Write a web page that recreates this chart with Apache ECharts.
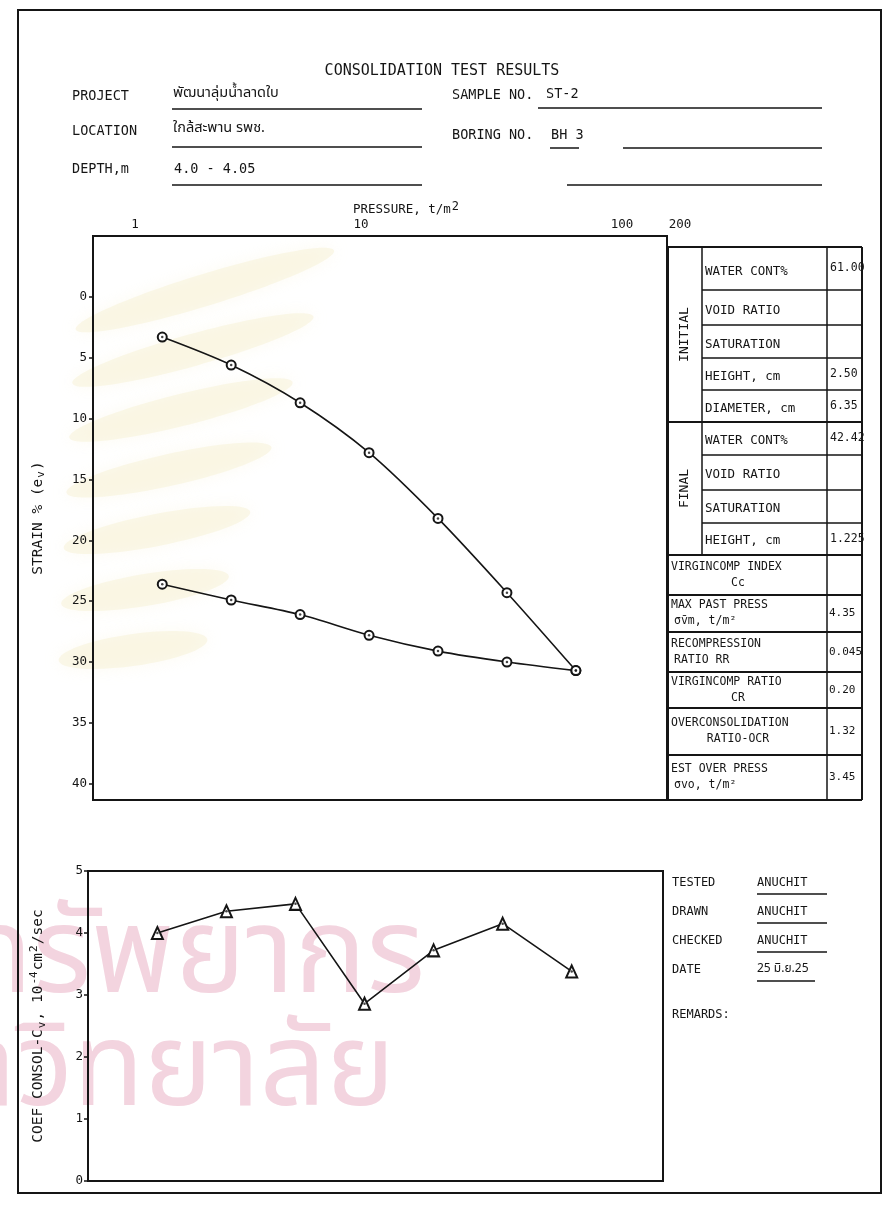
<!DOCTYPE html>
<html>
<head>
<meta charset="utf-8">
<script src="https://cdn.jsdelivr.net/npm/echarts@6/dist/echarts.min.js"></script>
<style>
  html, body { margin: 0; padding: 0; background: #ffffff; }
  #chart { width: 889px; height: 1210px; }
</style>
</head>
<body>
<div id="chart"></div>
<script>
// ---- consolidation test data ----
const pressure = [1.25, 2.5, 5, 10, 20, 40, 80];                 // t/m2, load steps
const strainLoading = [3.3, 5.6, 8.7, 12.8, 18.2, 24.3, 30.7];    // strain %
const unloadPressure = [80, 40, 20, 10, 5, 2.5, 1.25];
const strainUnloading = [30.7, 30.0, 29.1, 27.8, 26.1, 24.9, 23.6];
const cvPressure = [1.25, 2.5, 5, 10, 20, 40, 80];
const cvValues = [4.0, 4.35, 4.47, 2.86, 3.72, 4.15, 3.38];      // 10^-4 cm2/sec

const pressureTicks = [1, 10, 100, 200];
const strainTicks = [0, 5, 10, 15, 20, 25, 30, 35, 40];
const cvTicks = [0, 1, 2, 3, 4, 5];

// ---- sheet texts ----
const projectName = 'พัฒนาลุ่มน้ำลาดใบ';
const locationName = 'ใกล้สะพาน รพช.';
const depthText = '4.0 - 4.05';
const sampleNo = 'ST-2';
const boringNo = 'BH 3';
const initialRows = [['WATER CONT%', '61.00'], ['VOID RATIO', ''], ['SATURATION', ''], ['HEIGHT, cm', '2.50'], ['DIAMETER, cm', '6.35']];
const finalRows = [['WATER CONT%', '42.42'], ['VOID RATIO', ''], ['SATURATION', ''], ['HEIGHT, cm', '1.225']];
const summaryRows = [
  ['VIRGINCOMP INDEX', 'Cc', ''],
  ['MAX PAST PRESS', 'σ̄vm, t/m²', '4.35'],
  ['RECOMPRESSION', 'RATIO RR', '0.045'],
  ['VIRGINCOMP RATIO', 'CR', '0.20'],
  ['OVERCONSOLIDATION', 'RATIO-OCR', '1.32'],
  ['EST OVER PRESS', 'σvo, t/m²', '3.45']
];
const signRows = [['TESTED', 'ANUCHIT'], ['DRAWN', 'ANUCHIT'], ['CHECKED', 'ANUCHIT'], ['DATE', '25 มิ.ย.25'], ['REMARDS:', '']];

// ---- drawing helpers ----
const INK = '#151515';
const MONO = '"DejaVu Sans Mono", "Liberation Mono", monospace';
const THAI = '"Noto Sans Thai", "Noto Sans Thai Looped", "Noto Sans", "DejaVu Sans", sans-serif';
const G = [];
function line(x1, y1, x2, y2, w) {
  G.push({ type: 'line', silent: true, z: 5,
    shape: { x1, y1, x2, y2 }, style: { stroke: INK, lineWidth: w || 1.5 } });
}
function text(x, y, str, o) {
  o = o || {};
  G.push({ type: 'text', silent: true, z: 6, x, y, rotation: o.rot || 0,
    style: { text: str, x: 0, y: 0, fill: o.color || INK,
      font: (o.weight || 'normal') + ' ' + (o.size || 12) + 'px ' + (o.family || MONO),
      textAlign: o.align || 'left', textVerticalAlign: 'middle' } });
}

// page frame
G.push({ type: 'rect', silent: true, z: 5, shape: { x: 18, y: 10, width: 863, height: 1183 },
  style: { fill: 'none', stroke: INK, lineWidth: 2 } });

// faint emblem feathers and lettering printed behind the sheet
for (let i = 0; i < 7; i++) {
  const deg = 17 - i * 1.5;
  G.push({ type: 'ellipse', silent: true, z: -10,
    x: 205 - i * 12, y: 290 + i * 60, rotation: deg * Math.PI / 180,
    shape: { cx: 0, cy: 0, rx: 135 - i * 10, ry: 16 },
    style: { fill: 'rgba(247,239,208,0.45)', shadowBlur: 16, shadowColor: 'rgba(247,239,208,0.6)' } });
}
G.push({ type: 'text', silent: true, z: -10, x: 425, y: 968,
  style: { text: 'ศูนย์วิทยทรัพยากร', fill: '#f3d4df', font: '120px ' + THAI, textAlign: 'right', textVerticalAlign: 'middle' } });
G.push({ type: 'text', silent: true, z: -10, x: 395, y: 1082,
  style: { text: 'จุฬาลงกรณ์มหาวิทยาลัย', fill: '#f3d4df', font: '116px ' + THAI, textAlign: 'right', textVerticalAlign: 'middle' } });

// header
text(442, 71, 'CONSOLIDATION TEST RESULTS', { align: 'center', size: 15 });
text(72, 96, 'PROJECT', { size: 13.5 });
text(173, 94, projectName, { size: 14.5, family: THAI });
line(172, 109, 422, 109);
text(72, 131, 'LOCATION', { size: 13.5 });
text(173, 129, locationName, { size: 14.5, family: THAI });
line(172, 147, 422, 147);
text(72, 169, 'DEPTH,m', { size: 13.5 });
text(174, 169, depthText, { size: 13.5 });
line(172, 185, 422, 185);
text(452, 95, 'SAMPLE NO.', { size: 13.5 });
text(546, 94, sampleNo, { size: 13.5 });
line(538, 108, 822, 108);
text(452, 135, 'BORING NO.', { size: 13.5 });
text(551, 135, boringNo, { size: 13.5 });
line(550, 148, 579, 148);
line(623, 148, 822, 148);
line(567, 185, 822, 185);

// pressure axis caption
G.push({ type: 'text', silent: true, z: 6, x: 353, y: 210,
  style: { text: '{a|PRESSURE, t/m}{s|2}', x: 0, y: 0, textVerticalAlign: 'middle',
    rich: { a: { fontFamily: MONO, fontSize: 12.5, fill: INK, color: INK },
            s: { fontFamily: MONO, fontSize: 12, fill: INK, color: INK, padding: [0, 0, 7, 1] } } } });

// ---- properties table ----
const TX0 = 668, TX1 = 702, TXV = 827, TX2 = 862;
const initialY = [247, 290, 325, 358, 390, 422];
const finalY = [422, 455, 490, 523, 555];
const summaryY = [555, 595, 632, 672, 708, 755, 800];
line(TX0, 247, TX2, 247, 2);
line(TX0, 247, TX0, 800, 2);
line(TX2, 247, TX2, 800, 2);
line(TX1, 247, TX1, 555, 1.5);
line(TXV, 247, TXV, 800, 1.5);
line(TX0, 422, TX2, 422, 2);
initialRows.forEach((r, i) => {
  const y0 = initialY[i], y1 = initialY[i + 1];
  if (i > 0) line(TX1, y0, TX2, y0, 1.5);
  text(TX1 + 3, (y0 + y1) / 2 + 3, r[0], { size: 12.5 });
  if (r[1]) text(TXV + 3, (y0 + y1) / 2, r[1], { size: 11.5 });
});
finalRows.forEach((r, i) => {
  const y0 = finalY[i], y1 = finalY[i + 1];
  if (i > 0) line(TX1, y0, TX2, y0, 1.5);
  text(TX1 + 3, (y0 + y1) / 2 + 2, r[0], { size: 12.5 });
  if (r[1]) text(TXV + 3, (y0 + y1) / 2, r[1], { size: 11.5 });
});
text((TX0 + TX1) / 2, (initialY[0] + initialY[5]) / 2, 'INITIAL', { align: 'center', rot: Math.PI / 2, size: 13 });
text((TX0 + TX1) / 2, (finalY[0] + finalY[4]) / 2, 'FINAL', { align: 'center', rot: Math.PI / 2, size: 13 });
summaryRows.forEach((r, i) => {
  const y0 = summaryY[i], y1 = summaryY[i + 1];
  line(TX0, y0, TX2, y0, 2);
  const mid = (y0 + y1) / 2;
  text(TX0 + 3, mid - 8, r[0], { size: 11.5 });
  const centred = r[1] === 'Cc' || r[1] === 'CR' || r[1] === 'RATIO-OCR';
  text(centred ? 738 : TX0 + 6, mid + 8, r[1], { size: 11.5, align: centred ? 'center' : 'left' });
  if (r[2]) text(TXV + 2, mid, r[2], { size: 11 });
});
line(TX0, 800, TX2, 800, 2);

// ---- sign-off block ----
const signY = [883, 912, 941, 970, 1015];
signRows.forEach((r, i) => {
  text(672, signY[i], r[0], { size: 12 });
  if (r[1]) {
    const thai = /[\u0E00-\u0E7F]/.test(r[1]);
    text(757, signY[i], r[1], { size: 12, family: thai ? THAI : MONO });
    line(757, signY[i] + 11, i === 3 ? 815 : 827, signY[i] + 11, 1.5);
  }
});

// ---- chart ----
const chart = echarts.init(document.getElementById('chart'), null, { renderer: 'canvas' });

const labelFont = { fontFamily: MONO, fontSize: 12.5, color: INK };
const pressureLabelShift = { 1: [0, 10, 0, 0], 10: [0, 16, 0, 0], 100: [0, 0, 0, 48], 200: [0, 0, 0, 26] };
const xRich = {};
pressureTicks.forEach(t => { xRich['t' + t] = Object.assign({ padding: pressureLabelShift[t] }, labelFont); });

const ringStyle = { color: '#ffffff', borderColor: INK, borderWidth: 2 };

chart.setOption({
  animation: false,
  backgroundColor: '#ffffff',
  graphic: { elements: G },
  grid: [
    { left: 93, top: 236, width: 574, height: 564, show: true, borderColor: INK, borderWidth: 2, backgroundColor: 'transparent' },
    { left: 88, top: 871, width: 575, height: 310, show: true, borderColor: INK, borderWidth: 2, backgroundColor: 'transparent' }
  ],
  xAxis: [
    { type: 'log', logBase: 10, gridIndex: 0, position: 'top', min: 0.623, max: 200,
      axisLine: { show: false }, axisTick: { show: false }, splitLine: { show: false }, minorTick: { show: false },
      axisLabel: { show: true, margin: 5, interval: 0, showMinLabel: true, showMaxLabel: true,
        customValues: pressureTicks,
        formatter: v => {
          const t = pressureTicks.find(p => Math.abs(p - v) / p < 1e-6);
          return t === undefined ? '' : '{t' + t + '|' + t + '}';
        },
        rich: xRich } },
    { type: 'log', logBase: 10, gridIndex: 1, min: 0.623, max: 200,
      axisLine: { show: false }, axisTick: { show: false }, splitLine: { show: false }, axisLabel: { show: false } }
  ],
  yAxis: [
    { type: 'value', gridIndex: 0, inverse: true, min: -5, max: 41.33, interval: 5,
      name: '{a|STRAIN % (e}{s|v}{a|)}', nameLocation: 'middle', nameGap: 46, nameRotate: 90,
      nameTextStyle: { rich: { a: { fontFamily: MONO, fontSize: 14.5, color: INK },
                               s: { fontFamily: MONO, fontSize: 11, color: INK, padding: [7, 1, 0, 1] } } },
      axisLine: { show: false }, splitLine: { show: false },
      axisTick: { show: true, inside: false, length: 4, lineStyle: { color: INK, width: 1.5 }, customValues: strainTicks },
      axisLabel: Object.assign({ margin: 6, customValues: strainTicks,
        formatter: v => (strainTicks.indexOf(Math.round(v)) >= 0 && Math.abs(v - Math.round(v)) < 1e-6) ? String(Math.round(v)) : '' }, labelFont) },
    { type: 'value', gridIndex: 1, min: 0, max: 5, interval: 1,
      name: '{a|COEF CONSOL-C}{s|v}{a|, 10}{p|-4}{a|cm}{p|2}{a|/sec}', nameLocation: 'middle', nameGap: 40, nameRotate: 90,
      nameTextStyle: { rich: { a: { fontFamily: MONO, fontSize: 14.5, color: INK },
                               s: { fontFamily: MONO, fontSize: 11, color: INK, padding: [7, 1, 0, 1] },
                               p: { fontFamily: MONO, fontSize: 11, color: INK, padding: [0, 1, 8, 1] } } },
      axisLine: { show: false }, splitLine: { show: false },
      axisTick: { show: true, inside: false, length: 4, lineStyle: { color: INK, width: 1.5 }, customValues: cvTicks },
      axisLabel: Object.assign({ margin: 5, customValues: cvTicks }, labelFont) }
  ],
  series: [
    { type: 'line', name: 'loading', xAxisIndex: 0, yAxisIndex: 0, smooth: 0.3,
      data: pressure.map((p, i) => [p, strainLoading[i]]),
      symbol: 'circle', symbolSize: 9, itemStyle: ringStyle,
      lineStyle: { color: INK, width: 1.6 }, z: 3 },
    { type: 'line', name: 'unloading', xAxisIndex: 0, yAxisIndex: 0, smooth: 0.3,
      data: unloadPressure.map((p, i) => [p, strainUnloading[i]]),
      symbol: 'circle', symbolSize: 9, itemStyle: ringStyle,
      lineStyle: { color: INK, width: 1.6 }, z: 3 },
    { type: 'scatter', xAxisIndex: 0, yAxisIndex: 0, symbolSize: 2.5, itemStyle: { color: INK }, z: 4,
      data: pressure.map((p, i) => [p, strainLoading[i]]).concat(unloadPressure.map((p, i) => [p, strainUnloading[i]])) },
    { type: 'line', name: 'cv', xAxisIndex: 1, yAxisIndex: 1, smooth: false,
      data: cvPressure.map((p, i) => [p, cvValues[i]]),
      symbol: 'triangle', symbolSize: [11, 12], itemStyle: ringStyle,
      lineStyle: { color: INK, width: 1.6 }, z: 3 },
    { type: 'scatter', xAxisIndex: 1, yAxisIndex: 1, symbolSize: 2.5, itemStyle: { color: INK }, z: 4,
      data: cvPressure.map((p, i) => [p, cvValues[i]]) }
  ]
});
</script>
</body>
</html>
